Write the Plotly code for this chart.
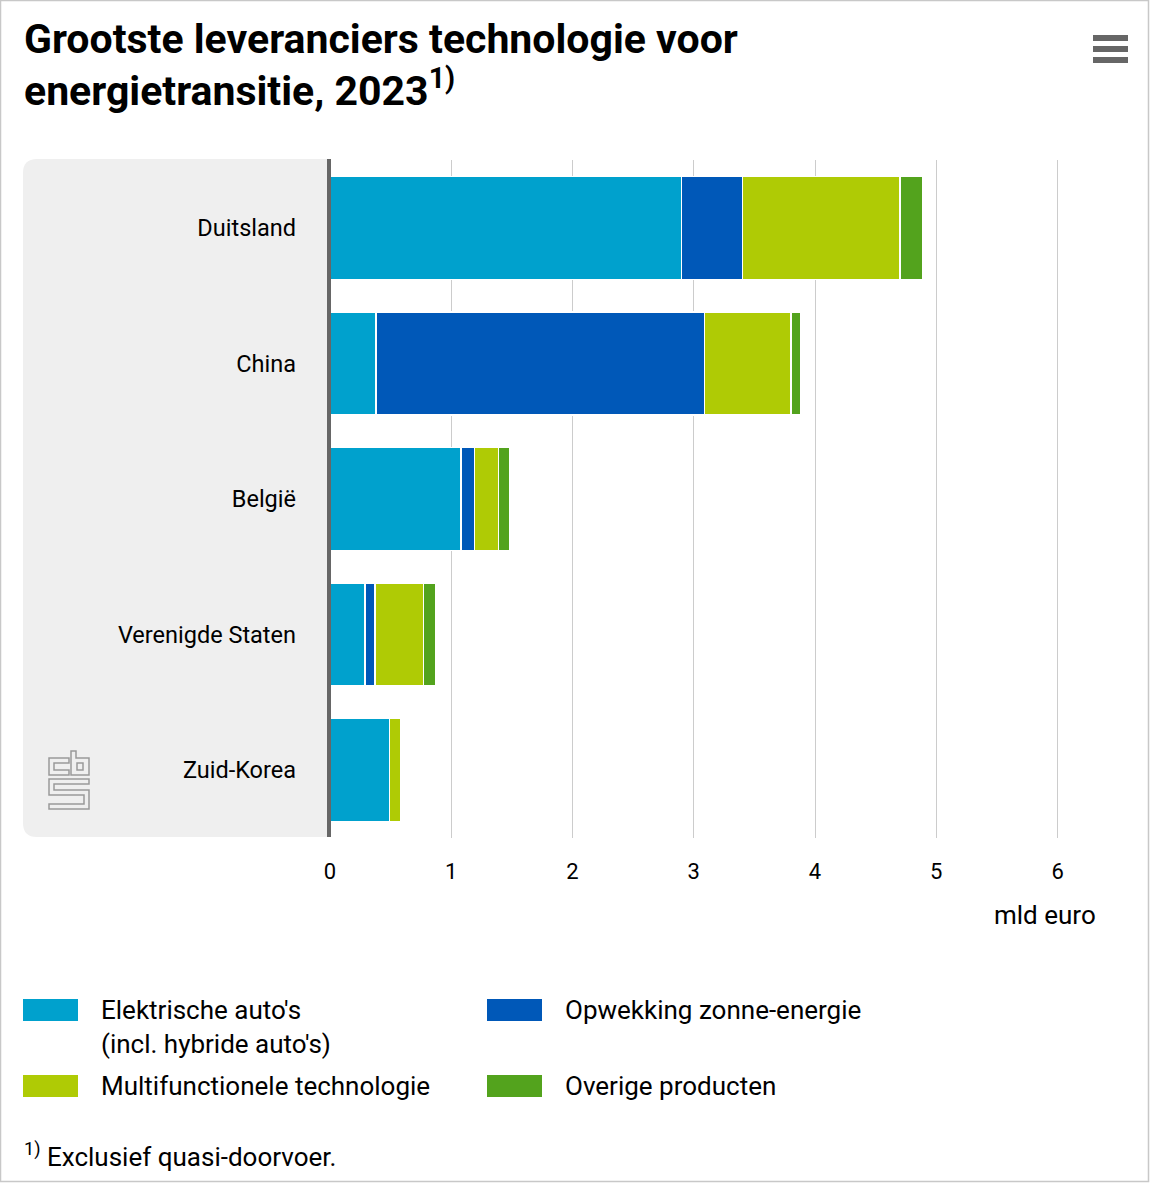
import plotly.graph_objects as go

countries = ["Duitsland", "China", "België", "Verenigde Staten", "Zuid-Korea"]
series_names = ["Elektrische auto's<br>(incl. hybride auto's)", "Opwekking zonne-energie",
                "Multifunctionele technologie", "Overige producten"]
elektrische = [2.9, 0.38, 1.08, 0.29, 0.49]
zonne = [0.5, 2.71, 0.11, 0.08, 0.0]
multi = [1.3, 0.71, 0.2, 0.4, 0.09]
overige = [0.19, 0.08, 0.09, 0.1, 0.0]
colors = ["#00a1cd", "#0058b8", "#afcb05", "#53a31d"]
x_ticks = [0, 1, 2, 3, 4, 5, 6]
title_lines = ["Grootste leveranciers technologie voor", "energietransitie, 2023<sup>1)</sup>"]

W, H = 1150, 1183
PL, PR, PT, PB = 330, 1060, 160, 838
XMAX = 6.02
FONT = "Roboto, Noto Sans, sans-serif"


def px(x):
    return (x - PL) / (PR - PL)


def py(y):
    return (PB - y) / (PB - PT)


def pth(cmds):
    out = []
    for c in cmds:
        if isinstance(c, str):
            out.append(c)
        else:
            out.append(f"{px(c[0])},{py(c[1])}")
    return " ".join(out)


fig = go.Figure()
for name, vals, col in zip(series_names, [elektrische, zonne, multi, overige], colors):
    fig.add_trace(go.Bar(y=countries, x=vals, orientation="h", name=name,
                         marker=dict(color=col, line=dict(color="white", width=1.5)),
                         showlegend=False, hoverinfo="x+y"))

shapes = []
# outer border
shapes.append(dict(type="rect", xref="paper", yref="paper", x0=px(0.5), x1=px(W - 1.5),
                   y0=py(H - 1.5), y1=py(0.5), line=dict(color="#c8c8c8", width=1.5),
                   fillcolor="rgba(0,0,0,0)", layer="below"))
# gray rounded panel
r = 14
x0, x1, y0, y1 = 23, 330, 159, 837
path = pth(["M", (x1, y0), "L", (x0 + r, y0), "Q", (x0, y0), (x0, y0 + r),
            "L", (x0, y1 - r), "Q", (x0, y1), (x0 + r, y1), "L", (x1, y1), "Z"])
shapes.append(dict(type="path", xref="paper", yref="paper", path=path,
                   fillcolor="#efefef", line=dict(width=0), layer="below"))
# axis line
shapes.append(dict(type="line", xref="paper", yref="paper", x0=px(329), x1=px(329),
                   y0=py(159), y1=py(837), line=dict(color="#666666", width=4)))
# hamburger menu
for yy in [38, 49, 60]:
    shapes.append(dict(type="line", xref="paper", yref="paper", x0=px(1093), x1=px(1128),
                       y0=py(yy), y1=py(yy), line=dict(color="#666666", width=6)))
# cbs logo (outline)
logo_paths = [
    ["M", (49, 758), "L", (69, 758), "L", (69, 763), "L", (54, 763), "L", (54, 770),
     "L", (69, 770), "L", (69, 775), "L", (49, 775), "Z"],
    ["M", (71, 751), "L", (76, 751), "L", (76, 758), "L", (89, 758), "L", (89, 775),
     "L", (71, 775), "Z", "M", (77, 763), "L", (83, 763), "L", (83, 770), "L", (77, 770), "Z"],
    ["M", (49, 779), "L", (89, 779), "L", (89, 784), "L", (54, 784), "L", (54, 790),
     "L", (89, 790), "L", (89, 809), "L", (49, 809), "L", (49, 804), "L", (84, 804),
     "L", (84, 795), "L", (49, 795), "Z"],
]
for lp in logo_paths:
    shapes.append(dict(type="path", xref="paper", yref="paper", path=pth(lp),
                       fillcolor="rgba(0,0,0,0)", line=dict(color="#9a9a9a", width=1.5)))
# legend swatches
leg_pos = [(23, 1010), (487, 1010), (23, 1086), (487, 1086)]
for (lx, ly), col in zip(leg_pos, colors):
    shapes.append(dict(type="rect", xref="paper", yref="paper", x0=px(lx), x1=px(lx + 55),
                       y0=py(ly + 11), y1=py(ly - 11), fillcolor=col, line=dict(width=0)))

annotations = []
for ty, line in zip([13, 59], title_lines):
    annotations.append(dict(xref="paper", yref="paper", x=px(22), y=py(ty), xanchor="left", yanchor="top",
                            align="left", showarrow=False, text=f"<b>{line}</b>",
                            font=dict(family=FONT, size=41, color="#000000")))
annotations.append(dict(xref="paper", yref="paper", x=px(1098), y=py(915), xanchor="right", yanchor="middle",
                        showarrow=False, text="mld euro", font=dict(family=FONT, size=26, color="#000000")))
for (lx, ly), name in zip(leg_pos, series_names):
    annotations.append(dict(xref="paper", yref="paper", x=px(lx + 76), y=py(ly - 17), xanchor="left",
                            yanchor="top", align="left", showarrow=False, text=name,
                            font=dict(family=FONT, size=26, color="#000000")))
annotations.append(dict(xref="paper", yref="paper", x=px(22), y=py(1155), xanchor="left", yanchor="middle",
                        showarrow=False, text="<sup>1)</sup> Exclusief quasi-doorvoer.",
                        font=dict(family=FONT, size=26, color="#000000")))

fig.update_layout(
    width=W, height=H, barmode="stack", bargap=0.24,
    margin=dict(l=PL, r=W - PR, t=PT, b=H - PB, pad=0),
    plot_bgcolor="rgba(0,0,0,0)", paper_bgcolor="white",
    font=dict(family=FONT, size=22, color="#000000"),
    shapes=shapes, annotations=annotations,
    xaxis=dict(range=[0, XMAX], tickvals=x_ticks, showgrid=True, gridcolor="#cccccc", gridwidth=1,
               zeroline=False, showline=False, ticks="", ticklabelstandoff=18,
               tickfont=dict(size=22)),
    yaxis=dict(autorange="reversed", showgrid=False, zeroline=False, showline=False, ticks="",
               ticklabelstandoff=33, tickfont=dict(size=23.5)),
)
fig.write_html("out.html", config={"displayModeBar": False},
               post_script="document.body.style.margin='0';document.body.style.overflow='hidden';")
